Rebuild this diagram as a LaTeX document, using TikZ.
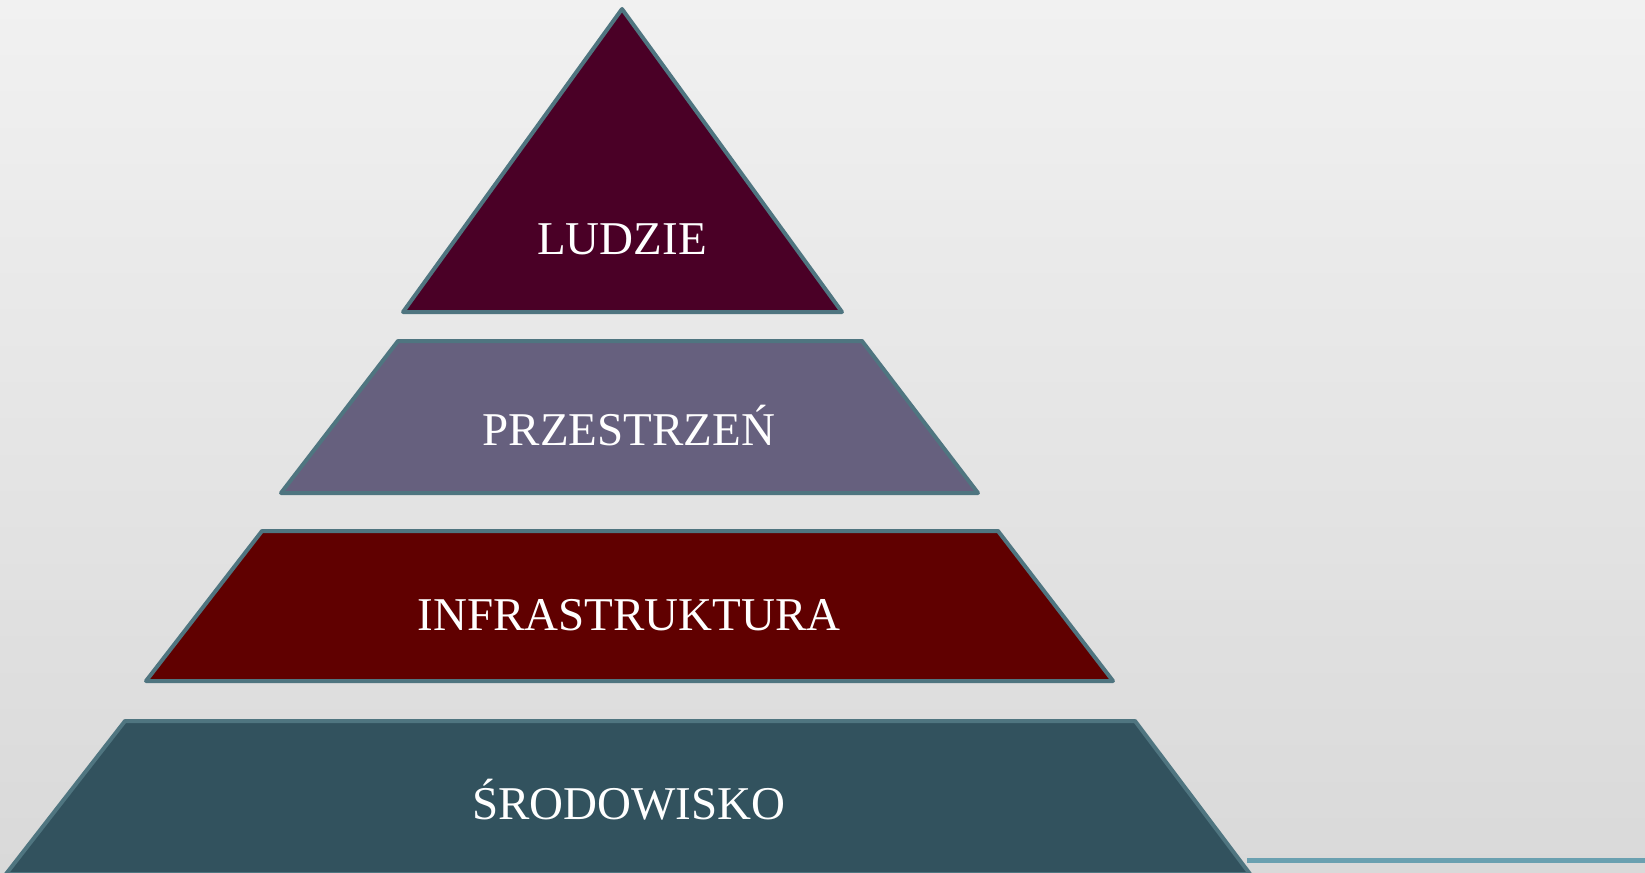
\documentclass[tikz,border=0pt]{standalone}
\usepackage{fontspec}
\setmainfont{Liberation Serif}
\definecolor{bgtop}{HTML}{F1F1F1}
\definecolor{bgbottom}{HTML}{D9D9D9}
\definecolor{edge}{HTML}{4F7580}
\definecolor{ludzie}{HTML}{4A0026}
\definecolor{przestrzen}{HTML}{66607E}
\definecolor{infra}{HTML}{600000}
\definecolor{srodowisko}{HTML}{32525E}
\definecolor{rule}{HTML}{6AA0B0}
\tikzset{
  layer/.style={draw=edge, line width=4pt, line join=round},
  label/.style={text=white, anchor=base, font=\fontsize{47}{56}\selectfont}
}
\begin{document}
\begin{tikzpicture}[x=1pt, y=-1pt]
        % Background
        \shade[top color=bgtop, bottom color=bgbottom] (0,0) rectangle (1645,872);
        \useasboundingbox (0,0) rectangle (1645,872);

        % Draw layers of the pyramid
        \filldraw[layer, fill=srodowisko] (125,721) -- (1135,721) -- (1250,874) -- (6,874) -- cycle;
        \filldraw[layer, fill=infra] (262,531) -- (998,531) -- (1113,681) -- (146,681) -- cycle;
        \filldraw[layer, fill=przestrzen] (398,341) -- (862,341) -- (978,493) -- (281,493) -- cycle;
        \filldraw[layer, fill=ludzie] (622,9) -- (842,312) -- (403,312) -- cycle;

        % Rule at the bottom right
        \draw[rule, line width=5pt] (1247,860.5) -- (1645,860.5);

        % Labels
        \node[label] (ludzieLabel) at (622,254) {LUDZIE};
        \node[label] (przestrzenLabel) at (629,445) {PRZESTRZEŃ};
        \node[label] (infraLabel) at (629,630) {INFRASTRUKTURA};
        \node[label] (srodowiskoLabel) at (629,819) {ŚRODOWISKO};
\end{tikzpicture}
\end{document}
